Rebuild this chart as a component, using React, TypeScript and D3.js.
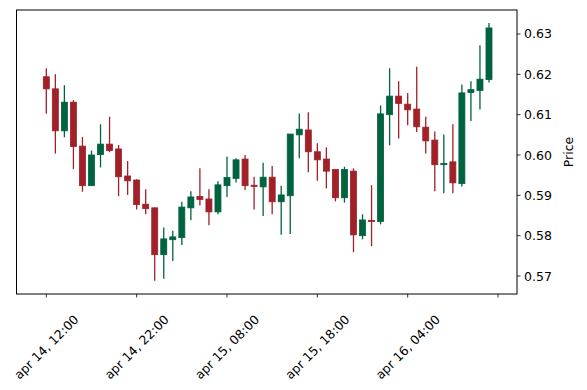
import React from "react";
import * as d3 from "d3";

// hourly candles, index 0 = apr 14, 12:00
const opens = [
  0.6194, 0.6164, 0.606, 0.6131, 0.6022, 0.5924, 0.6001, 0.6027, 0.6015, 0.5948,
  0.5938, 0.5878, 0.5869, 0.5753, 0.579, 0.5795, 0.5869, 0.5897, 0.5891, 0.5859,
  0.5924, 0.5942, 0.599, 0.5925, 0.5921, 0.5945, 0.5884, 0.5899, 0.605, 0.6062,
  0.6008, 0.599, 0.5964, 0.5894, 0.596, 0.58, 0.5838, 0.5835, 0.61, 0.6146,
  0.6126, 0.6114, 0.6069, 0.6037, 0.5977, 0.5983, 0.5929, 0.6155, 0.616, 0.6187,
];
const highs = [
  0.6215, 0.62, 0.6173, 0.6136, 0.6045, 0.6011, 0.6076, 0.6095, 0.6025, 0.5985,
  0.594, 0.5915, 0.587, 0.582, 0.5812, 0.5884, 0.591, 0.5967, 0.5915, 0.5935,
  0.5996, 0.5992, 0.6, 0.5946, 0.5981, 0.5973, 0.5924, 0.6052, 0.6103, 0.6106,
  0.6029, 0.6019, 0.5965, 0.5971, 0.5967, 0.5853, 0.5925, 0.6123, 0.6215, 0.6183,
  0.6154, 0.6219, 0.6095, 0.6058, 0.6051, 0.6076, 0.6175, 0.6183, 0.6272, 0.6327,
];
const lows = [
  0.6102, 0.6004, 0.6044, 0.5965, 0.5909, 0.5924, 0.5969, 0.6007, 0.5898, 0.5901,
  0.5865, 0.5853, 0.5688, 0.5693, 0.5737, 0.5777, 0.5838, 0.5875, 0.5826, 0.5853,
  0.5896, 0.5932, 0.5913, 0.5865, 0.5849, 0.5853, 0.5802, 0.5804, 0.5992, 0.5957,
  0.5936, 0.5917, 0.5885, 0.5882, 0.5759, 0.5791, 0.5774, 0.5828, 0.6024, 0.6041,
  0.6074, 0.6057, 0.6004, 0.591, 0.5905, 0.5905, 0.5922, 0.6084, 0.6113, 0.618,
];
const closes = [
  0.6164, 0.606, 0.6131, 0.6021, 0.5924, 0.6, 0.6027, 0.6011, 0.5946, 0.5936,
  0.5877, 0.5867, 0.5753, 0.5792, 0.5797, 0.5871, 0.5896, 0.589, 0.5859, 0.5926,
  0.5944, 0.5988, 0.5924, 0.5922, 0.5945, 0.5884, 0.5901, 0.6052, 0.6064, 0.6008,
  0.5988, 0.596, 0.5894, 0.5964, 0.5802, 0.5839, 0.5836, 0.6102, 0.6146, 0.6128,
  0.6112, 0.607, 0.6035, 0.5976, 0.5979, 0.5931, 0.6154, 0.6162, 0.6188, 0.6315,
];

const xTickIdx = [0, 10, 20, 30, 40, 50];
const xTickLabels = ["apr 14, 12:00", "apr 14, 22:00", "apr 15, 08:00", "apr 15, 18:00", "apr 16, 04:00", ""];
const yTicks = [0.57, 0.58, 0.59, 0.6, 0.61, 0.62, 0.63];

const upColor = "#006340";
const downColor = "#A02128";
const font = "DejaVu Sans, sans-serif";

export default function App() {
  const W = 587, H = 390;
  const left = 16.5, right = 517, top = 10, bottom = 294;

  const x = d3.scaleLinear().domain([-3.3, 52.1]).range([left, right]);
  const y = d3.scaleLinear().domain([0.56554, 0.63595]).range([bottom, top]);

  const bodyW = 6;

  return (
    <svg width={W} height={H} style={{ position: "absolute", left: 0, top: 0, background: "#fff" }}>
      {opens.map((o, i) => {
        const c = closes[i];
        const col = c >= o ? upColor : downColor;
        const cx = x(i);
        const yTop = y(Math.max(o, c));
        const yBot = y(Math.min(o, c));
        const h = Math.max(yBot - yTop, 1.2);
        return (
          <g key={i}>
            <line x1={cx} x2={cx} y1={y(highs[i])} y2={y(lows[i])} stroke={col} strokeWidth={1.3} />
            <rect x={cx - bodyW / 2} y={yTop} width={bodyW} height={h} fill={col} stroke={col} strokeWidth={0.8} />
          </g>
        );
      })}

      <rect x={left} y={top} width={right - left} height={bottom - top} fill="none" stroke="#000" strokeWidth={1} />

      {yTicks.map((t) => (
        <g key={t} transform={`translate(${right},${y(t)})`}>
          <line x1={0} x2={3.5} stroke="#000" strokeWidth={0.8} />
          <text x={7} dy="0.36em" fontSize={12.5} fontFamily={font} fill="#000">
            {t.toFixed(2)}
          </text>
        </g>
      ))}
      <text
        transform={`translate(568,${(top + bottom) / 2}) rotate(-90)`}
        textAnchor="middle"
        dy="0.36em"
        fontSize={12.5}
        fontFamily={font}
        fill="#000"
      >
        Price
      </text>

      {xTickIdx.map((t, k) => (
        <g key={t}>
          <line x1={x(t)} x2={x(t)} y1={bottom} y2={bottom + 3.5} stroke="#000" strokeWidth={0.8} />
          {xTickLabels[k] && (
            <text
              transform={`translate(${x(t)},347) rotate(-45)`}
              textAnchor="middle"
              dy="0.36em"
              fontSize={12.5}
              fontFamily={font}
              fill="#000"
            >
              {xTickLabels[k]}
            </text>
          )}
        </g>
      ))}
    </svg>
  );
}
